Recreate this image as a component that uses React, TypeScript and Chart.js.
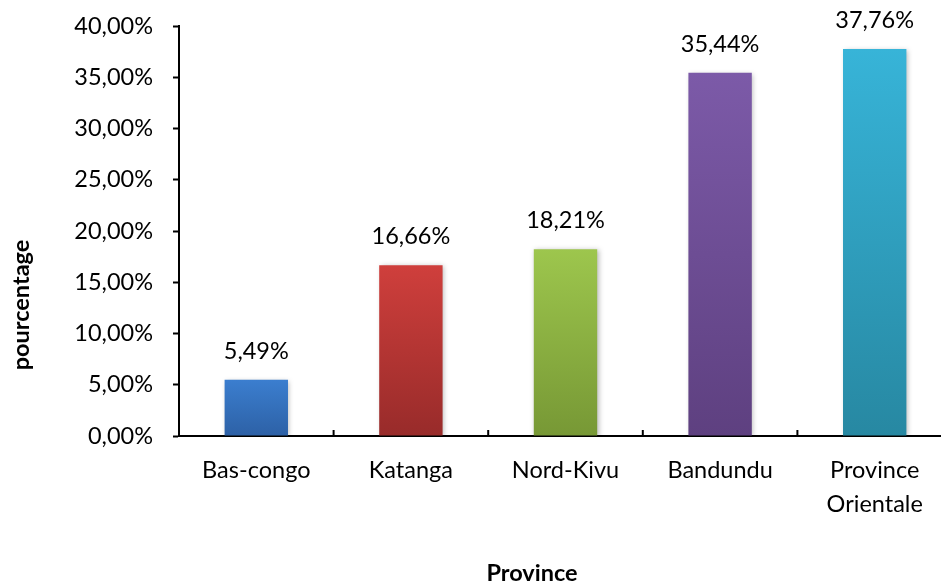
import React, { useEffect, useRef } from "react";
import { Chart, registerables } from "chart.js";

Chart.register(...registerables);

const categories: string[][] = [["Bas-congo"], ["Katanga"], ["Nord-Kivu"], ["Bandundu"], ["Province", "Orientale"]];
const values: number[] = [5.49, 16.66, 18.21, 35.44, 37.76];
const yMin = 0;
const yMax = 40;
const yStep = 5;
const topColors: string[] = ["#3B7ECF", "#CF3F3C", "#9DC64D", "#7C5AA8", "#37B4D8"];
const bottomColors: string[] = ["#2D61A6", "#982B2A", "#779835", "#5E4080", "#2788A2"];
const yTitle = "pourcentage";
const xTitle = "Province";

const FONT = "Lato, 'DejaVu Sans', sans-serif";
const SIZE = 23.5;

const fmt = (v: number) => v.toFixed(2).replace(".", ",") + "%";

export default function App() {
  const ref = useRef<HTMLCanvasElement | null>(null);

  useEffect(() => {
    if (!ref.current) return;

    const extras = {
      id: "extras",
      beforeDatasetsDraw(chart: any) {
        const ctx = chart.ctx;
        ctx.save();
        ctx.shadowColor = "rgba(0,0,0,0.28)";
        ctx.shadowBlur = 5;
        ctx.shadowOffsetX = 1.5;
        ctx.shadowOffsetY = 1;
      },
      afterDatasetsDraw(chart: any) {
        const ctx = chart.ctx;
        ctx.restore();
        const meta = chart.getDatasetMeta(0);
        ctx.save();
        ctx.fillStyle = "#000";
        ctx.font = `${SIZE}px ${FONT}`;
        ctx.textAlign = "center";
        ctx.textBaseline = "alphabetic";
        meta.data.forEach((bar: any, i: number) => {
          ctx.fillText(fmt(values[i]), bar.x, bar.y - 21);
        });
        ctx.restore();
      },
      afterDraw(chart: any) {
        const ctx = chart.ctx;
        const xs = chart.scales.x;
        const area = chart.chartArea;
        ctx.save();
        ctx.strokeStyle = "#000";
        ctx.lineWidth = 2;
        for (let i = 1; i < categories.length; i++) {
          const x = (xs.getPixelForValue(i - 1) + xs.getPixelForValue(i)) / 2;
          ctx.beginPath();
          ctx.moveTo(x, area.bottom);
          ctx.lineTo(x, area.bottom - 6);
          ctx.stroke();
        }
        ctx.fillStyle = "#000";
        ctx.font = `bold ${SIZE}px ${FONT}`;
        ctx.textAlign = "center";
        ctx.textBaseline = "alphabetic";
        ctx.fillText(xTitle, area.left + 353, area.bottom + 145);
        ctx.translate(29, area.bottom - 131);
        ctx.rotate(-Math.PI / 2);
        ctx.fillText(yTitle, 0, 0);
        ctx.restore();
      },
    };

    const chart = new Chart(ref.current, {
      type: "bar",
      data: {
        labels: categories,
        datasets: [
          {
            data: values,
            categoryPercentage: 1,
            barPercentage: 0.41,
            borderWidth: 0,
            backgroundColor: (c: any) => {
              const ch = c.chart;
              const ys = ch.scales?.y;
              if (!ys || !ch.chartArea || c.dataIndex === undefined) return topColors[0];
              const i = c.dataIndex;
              const top = ys.getPixelForValue(values[i]);
              const bottom = ys.getPixelForValue(0);
              const g = ch.ctx.createLinearGradient(0, top, 0, bottom);
              g.addColorStop(0, topColors[i]);
              g.addColorStop(1, bottomColors[i]);
              return g;
            },
          },
        ],
      },
      options: {
        responsive: false,
        animation: false,
        layout: { padding: { top: 26, left: 0, right: 0, bottom: 0 } },
        plugins: {
          legend: { display: false },
          tooltip: { enabled: false },
          title: { display: false },
        },
        scales: {
          x: {
            grid: { display: false },
            border: { display: true, color: "#000", width: 2 },
            ticks: {
              color: "#000",
              padding: 9,
              font: { family: FONT, size: SIZE, lineHeight: 1.45 },
              maxRotation: 0,
              autoSkip: false,
            },
            afterFit: (s: any) => {
              s.height = 147;
              s.paddingLeft = 0;
              s.paddingRight = 0;
            },
          },
          y: {
            min: yMin,
            max: yMax,
            grid: { drawOnChartArea: false, tickLength: 6, tickColor: "#000", tickWidth: 2 },
            border: { display: true, color: "#000", width: 2 },
            ticks: {
              stepSize: yStep,
              color: "#000",
              padding: 20,
              font: { family: FONT, size: SIZE },
              callback: (v: any) => fmt(Number(v)),
            },
            afterFit: (s: any) => {
              s.width = 179;
              s.paddingTop = 0;
              s.paddingBottom = 0;
            },
          },
        },
      },
      plugins: [extras],
    });

    return () => chart.destroy();
  }, []);

  return (
    <div
      style={{
        position: "fixed",
        left: 0,
        top: 0,
        width: 941,
        height: 583,
        overflow: "hidden",
        background: "#fff",
      }}
    >
      <canvas ref={ref} width={952} height={583} style={{ width: 952, height: 583, display: "block" }} />
    </div>
  );
}
